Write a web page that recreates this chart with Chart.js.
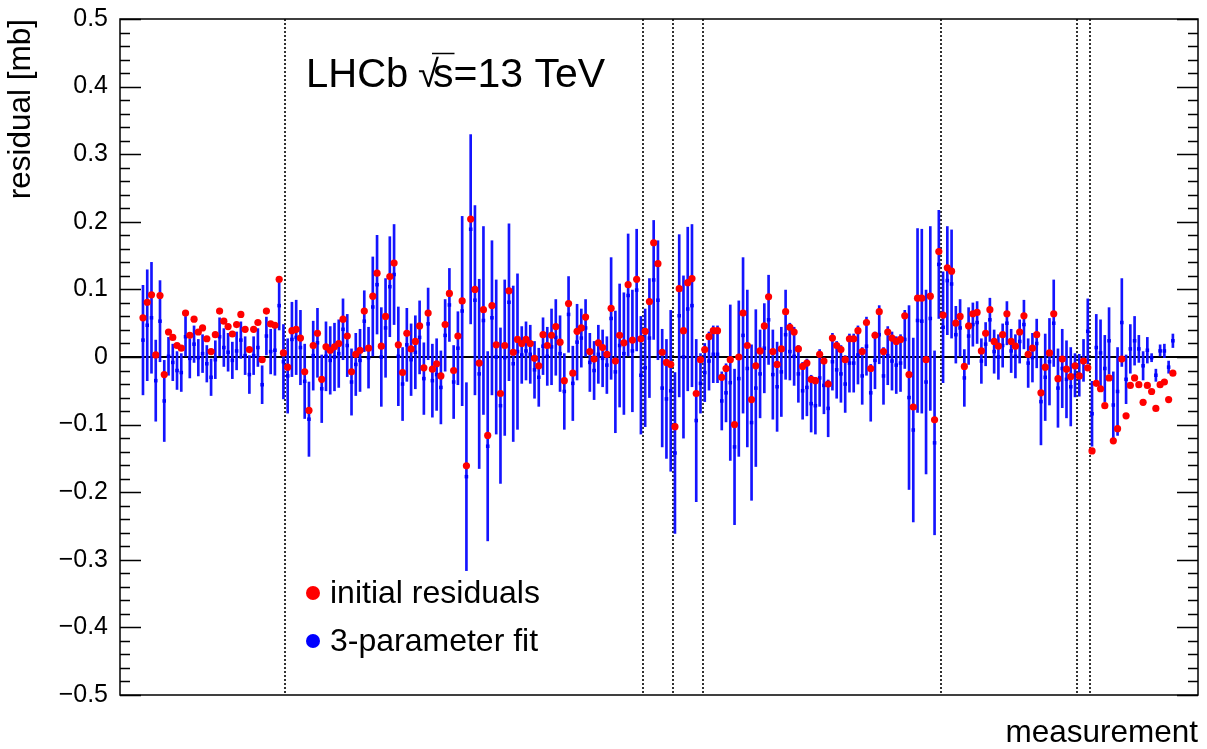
<!DOCTYPE html>
<html>
<head>
<meta charset="utf-8">
<script src="https://cdn.jsdelivr.net/npm/chart.js@4.4.1/dist/chart.umd.min.js"></script>
<style>
html,body{margin:0;padding:0;background:#fff;}
#wrap{position:relative;width:1207px;height:749px;}
canvas{display:block;}
</style>
</head>
<body>
<div id="wrap"><canvas id="c" width="1207" height="749"></canvas></div>
<script>
// initial residuals (red), per measurement index
const initialResiduals = [
 0.058,0.081,0.092,0.003,0.091,-0.026,0.037,0.029,0.017,0.013,
 0.065,0.032,0.056,0.037,0.043,0.027,0.008,0.033,0.068,0.053,
 0.045,0.034,0.048,0.063,0.041,0.011,0.041,0.051,-0.004,0.068,
 0.049,0.047,0.115,0.006,-0.015,0.039,0.041,0.028,-0.022,-0.079,
 0.017,0.035,-0.033,0.015,0.010,0.015,0.020,0.056,0.031,-0.022,
 0.004,0.010,0.068,0.013,0.090,0.124,0.016,0.060,0.119,0.139,
 0.018,-0.023,0.035,0.012,0.023,0.046,-0.016,0.065,-0.018,-0.010,
 -0.028,0.048,0.094,-0.020,0.031,0.083,-0.161,0.204,0.100,-0.009,
 0.070,-0.116,0.076,0.018,-0.054,0.017,0.098,0.007,0.026,0.020,
 0.026,0.020,-0.002,-0.013,0.033,0.017,0.032,0.045,0.022,-0.035,
 0.079,-0.024,0.038,0.043,0.059,0.008,-0.003,0.021,0.014,0.004,
 0.072,-0.006,0.032,0.021,0.107,0.025,0.115,0.027,0.038,0.082,
 0.169,0.138,0.007,-0.008,-0.011,-0.103,0.101,0.039,0.110,0.116,
 -0.054,-0.004,0.011,0.030,0.039,0.039,-0.030,-0.017,-0.004,-0.100,
 0.000,0.065,0.017,-0.063,-0.013,0.009,0.046,0.089,0.008,-0.011,
 0.012,0.067,0.044,0.037,0.012,-0.014,-0.009,-0.033,-0.035,0.004,
 -0.006,-0.040,0.028,0.017,0.011,-0.004,0.027,0.027,0.039,0.008,
 0.051,-0.017,0.032,0.067,0.008,0.037,0.028,0.023,0.026,0.061,
 -0.026,-0.074,0.087,0.087,-0.004,0.090,-0.093,0.156,0.062,0.132,
 0.127,0.050,0.060,-0.014,0.046,0.064,0.066,0.009,0.035,0.070,
 0.023,0.016,0.033,0.064,0.023,0.016,0.037,0.061,0.004,0.013,
 0.033,-0.053,-0.015,0.006,0.064,-0.032,-0.003,-0.018,-0.029,-0.013,
 -0.028,-0.006,-0.016,-0.139,-0.039,-0.047,-0.072,-0.031,-0.124,-0.106,
 -0.003,-0.087,-0.042,-0.031,-0.041,-0.067,-0.042,-0.051,-0.076,-0.041,
 -0.037,-0.063,-0.024
];
// residuals after the 3-parameter fit (blue)
const fitResiduals = [
 0.025,0.047,0.058,-0.035,0.053,-0.065,0.001,-0.008,-0.020,-0.023,
 0.030,-0.002,0.019,-0.001,0.005,-0.010,-0.030,-0.004,0.030,0.014,
 0.007,-0.005,0.009,0.025,0.002,-0.026,0.002,0.014,-0.041,0.031,
 0.008,0.010,0.076,-0.007,-0.028,0.026,0.029,0.014,-0.036,-0.092,
 0.002,0.021,-0.047,0.001,-0.005,0.000,0.005,0.041,0.017,-0.037,
 -0.011,-0.005,0.053,-0.001,0.074,0.107,0.000,0.043,0.104,0.122,
 0.001,-0.040,0.018,-0.004,0.007,0.029,-0.032,0.049,-0.035,-0.026,
 -0.045,0.032,0.077,-0.037,0.013,0.068,-0.177,0.189,0.084,-0.025,
 0.054,-0.132,0.058,0.000,-0.072,-0.001,0.081,-0.010,0.008,0.003,
 0.009,0.004,-0.019,-0.030,0.016,0.001,0.015,0.029,0.005,-0.051,
 0.063,-0.039,0.022,0.028,0.043,-0.008,-0.020,0.004,-0.002,-0.012,
 0.057,-0.022,0.017,0.005,0.091,0.009,0.099,-0.027,-0.016,0.028,
 0.114,0.084,-0.046,-0.062,-0.050,-0.142,0.061,0.000,0.071,0.076,
 -0.094,-0.039,-0.023,-0.006,0.004,0.004,-0.065,-0.053,-0.038,-0.133,
 -0.032,0.032,-0.017,-0.097,-0.046,-0.025,0.013,0.055,-0.026,-0.044,
 -0.022,0.033,0.008,0.001,-0.025,-0.050,-0.045,-0.069,-0.072,-0.031,
 -0.042,-0.076,-0.007,-0.019,-0.025,-0.040,-0.009,-0.009,0.003,-0.028,
 0.016,-0.053,-0.005,0.033,-0.028,0.002,-0.006,-0.012,-0.009,0.026,
 -0.060,-0.108,0.054,0.053,-0.037,0.057,-0.127,0.137,0.044,0.113,
 0.108,0.033,0.043,-0.031,0.031,0.048,0.051,-0.006,0.019,0.055,
 0.008,0.000,0.017,0.050,0.009,0.001,0.023,0.048,-0.009,-0.001,
 0.020,-0.066,-0.030,-0.007,0.050,-0.046,-0.017,-0.033,-0.044,-0.027,
 -0.027,-0.005,0.038,-0.084,0.014,0.006,-0.017,0.024,-0.071,-0.051,
 0.051,-0.033,0.012,0.024,0.012,-0.013,0.010,-0.001,-0.027,0.009,
 0.009,-0.015,0.024
];
// uncertainties of the fitted residuals
const uncertainties = [
 0.081,0.082,0.082,0.060,0.060,0.060,0.028,0.027,0.028,0.028,
 0.030,0.029,0.027,0.027,0.028,0.027,0.027,0.028,0.028,0.028,
 0.028,0.027,0.028,0.027,0.028,0.028,0.028,0.028,0.028,0.028,
 0.033,0.037,0.036,0.055,0.055,0.055,0.055,0.055,0.055,0.055,
 0.051,0.051,0.050,0.051,0.050,0.050,0.050,0.045,0.046,0.049,
 0.046,0.046,0.045,0.045,0.074,0.073,0.073,0.073,0.074,0.074,
 0.073,0.054,0.054,0.053,0.054,0.054,0.053,0.053,0.054,0.053,
 0.054,0.053,0.054,0.054,0.054,0.140,0.139,0.140,0.140,0.140,
 0.139,0.140,0.114,0.114,0.115,0.115,0.116,0.115,0.115,0.042,
 0.043,0.043,0.042,0.043,0.042,0.043,0.056,0.056,0.056,0.056,
 0.056,0.055,0.056,0.043,0.042,0.043,0.043,0.043,0.042,0.042,
 0.090,0.090,0.091,0.090,0.091,0.090,0.090,0.087,0.087,0.088,
 0.088,0.088,0.087,0.088,0.119,0.119,0.120,0.120,0.121,0.120,
 0.120,0.044,0.043,0.043,0.042,0.042,0.043,0.043,0.115,0.115,
 0.115,0.115,0.116,0.115,0.116,0.065,0.066,0.066,0.066,0.066,
 0.066,0.066,0.042,0.043,0.042,0.042,0.042,0.042,0.042,0.042,
 0.042,0.042,0.042,0.042,0.042,0.042,0.043,0.043,0.043,0.042,
 0.043,0.042,0.042,0.043,0.042,0.043,0.043,0.042,0.042,0.043,
 0.136,0.136,0.136,0.136,0.136,0.136,0.136,0.080,0.082,0.080,
 0.080,0.042,0.042,0.042,0.042,0.032,0.031,0.033,0.032,0.032,
 0.032,0.033,0.032,0.032,0.032,0.032,0.032,0.036,0.036,0.036,
 0.036,0.064,0.064,0.064,0.064,0.058,0.058,0.057,0.058,0.032,
 0.031,0.031,0.048,0.048,0.049,0.049,0.049,0.049,0.049,0.065,
 0.065,0.036,0.036,0.036,0.020,0.021,0.019,0.006,0.009,0.009,
 0.010,0.009,0.010
];
// group boundaries (dotted lines), in measurement-index units
const groupBoundaries = [33.4, 117.4, 124.5, 131.5, 187.5, 219.5, 222.5];
const yTickValues = [-0.5,-0.4,-0.3,-0.2,-0.1,0,0.1,0.2,0.3,0.4,0.5];
const legendLabels = ['initial residuals', '3-parameter fit'];
const annotationText = ['LHCb', '\u221A', 's=13 TeV'];
const xTitle = 'measurement';
const yTitle = 'residual [mb]';

const FONT = '"Liberation Sans", Arial, Helvetica, sans-serif';
const idx = initialResiduals.map((_, i) => i);
const redPts = idx.map(i => ({x: i, y: initialResiduals[i]}));
const bluePts = idx.map(i => ({x: i, y: fitResiduals[i]}));
const errBars = idx.map(i => ({x: i, y: [fitResiduals[i] - uncertainties[i], fitResiduals[i] + uncertainties[i]]}));

function fmt(v) {
  const r = Math.round(v * 10) / 10;
  if (Math.abs(r) < 1e-9) return '0';
  return r < 0 ? '\u2212' + Math.abs(r).toFixed(1) : r.toFixed(1);
}

const framePlugin = {
  id: 'frameTicks',
  beforeDatasetsDraw(chart) {
    const {ctx, chartArea: a, scales: {x}} = chart;
    ctx.save();
    ctx.strokeStyle = '#000';
    ctx.lineWidth = 1.6;
    ctx.setLineDash([2, 2]);
    groupBoundaries.forEach(b => {
      const px = Math.round(x.getPixelForValue(b));
      ctx.beginPath();
      ctx.moveTo(px, a.top);
      ctx.lineTo(px, a.bottom);
      ctx.stroke();
    });
    ctx.restore();
  },
  afterDraw(chart) {
    const {ctx, chartArea: a, scales: {y}} = chart;
    ctx.save();
    ctx.strokeStyle = '#000';
    ctx.lineWidth = 1.5;
    ctx.strokeRect(a.left, a.top, a.right - a.left, a.bottom - a.top);
    ctx.lineWidth = 1.3;
    for (let k = -25; k <= 25; k++) {
      const v = k / 50;
      const py = Math.round(y.getPixelForValue(v)) + 0.5;
      const len = (k % 5 === 0) ? 21 : 10;
      ctx.beginPath();
      ctx.moveTo(a.left, py); ctx.lineTo(a.left + len, py);
      ctx.moveTo(a.right, py); ctx.lineTo(a.right - len, py);
      ctx.stroke();
    }
    // annotation
    ctx.fillStyle = '#000';
    ctx.textBaseline = 'alphabetic';
    ctx.textAlign = 'left';
    ctx.font = '40px ' + FONT;
    ctx.fillText(annotationText[0], 306, 87);
    ctx.font = '38px ' + FONT;
    ctx.fillText(annotationText[1], 418, 87);
    const sx = 433;
    ctx.font = '41px ' + FONT;
    ctx.fillText(annotationText[2], sx, 87);
    const sw = ctx.measureText('s').width;
    ctx.lineWidth = 1.5;
    ctx.beginPath();
    ctx.moveTo(sx - 1, 53.5); ctx.lineTo(sx + sw + 1, 53.5);
    ctx.stroke();
    // legend
    const legendColors = ['#ff0000', '#0000ff'];
    const legendY = [593, 641];
    ctx.font = '32px ' + FONT;
    ctx.textBaseline = 'middle';
    legendLabels.forEach((t, i) => {
      ctx.fillStyle = legendColors[i];
      ctx.beginPath();
      ctx.arc(313, legendY[i], 7, 0, Math.PI * 2);
      ctx.fill();
      ctx.fillStyle = '#000';
      ctx.fillText(t, 330, legendY[i] + 1);
    });
    ctx.restore();
  }
};

new Chart(document.getElementById('c'), {
  type: 'scatter',
  data: {
    datasets: [
      {type: 'bar', data: errBars, backgroundColor: '#1414ff', borderWidth: 0, barThickness: 2, grouped: false, order: 3},
      {type: 'scatter', data: bluePts, pointStyle: 'rect', pointRadius: 2.5, backgroundColor: '#0000ff', borderWidth: 0, order: 2},
      {type: 'scatter', data: redPts, pointStyle: 'circle', pointRadius: 3.6, backgroundColor: '#ff0000', borderWidth: 0, order: 1}
    ]
  },
  options: {
    responsive: false,
    animation: false,
    devicePixelRatio: 1,
    layout: {padding: {top: 19, right: 9, left: 0, bottom: 0}},
    plugins: {legend: {display: false}, tooltip: {enabled: false}},
    scales: {
      x: {
        type: 'linear', min: -5.4, max: 247.9, offset: false,
        grid: {display: false, drawTicks: false},
        border: {display: false},
        ticks: {display: false},
        title: {display: true, text: xTitle, align: 'end', color: '#000',
                font: {family: FONT, size: 31.5, lineHeight: 1}, padding: {top: 0, bottom: 0}},
        afterFit: s => { s.height = 54; s.paddingLeft = 0; s.paddingRight = 0; }
      },
      y: {
        type: 'linear', min: -0.5, max: 0.5, z: 1,
        afterBuildTicks: s => { s.ticks = yTickValues.map(v => ({value: v})); },
        ticks: {color: '#000', padding: 12, font: {family: FONT, size: 25}, callback: v => fmt(v)},
        grid: {drawTicks: false, lineWidth: 2,
               color: c => (c.tick && Math.abs(c.tick.value) < 1e-9) ? '#000' : 'rgba(0,0,0,0)'},
        border: {display: false},
        title: {display: true, text: yTitle, align: 'end', color: '#000',
                font: {family: FONT, size: 31.5, lineHeight: 1}, padding: {top: 6, bottom: 0}},
        afterFit: s => { s.width = 120; s.paddingTop = 0; s.paddingBottom = 0; }
      }
    }
  },
  plugins: [framePlugin]
});
</script>
</body>
</html>
